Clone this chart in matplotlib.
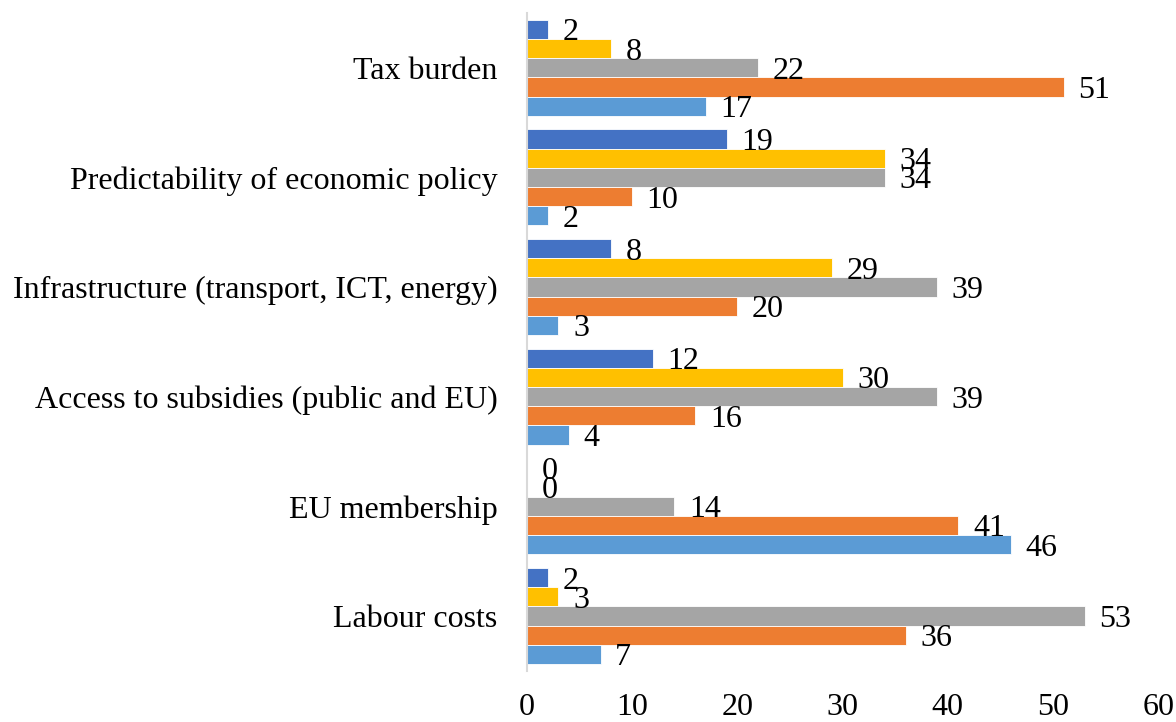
import matplotlib
matplotlib.use("Agg")
import matplotlib.pyplot as plt
import numpy as np

plt.rcParams['font.family'] = ['Liberation Serif', 'DejaVu Serif']

categories = ["Labour costs", "EU membership", "Access to subsidies (public and EU)",
              "Infrastructure (transport, ICT, energy)", "Predictability of economic policy",
              "Tax burden"]
# series listed top-to-bottom within each group
s_darkblue = [2, 0, 12, 8, 19, 2]
s_yellow = [3, 0, 30, 29, 34, 8]
s_gray = [53, 14, 39, 39, 34, 22]
s_orange = [36, 41, 16, 20, 10, 51]
s_lightblue = [7, 46, 4, 3, 2, 17]

series = [s_darkblue, s_yellow, s_gray, s_orange, s_lightblue]
colors = ["#4472C4", "#FFC000", "#A5A5A5", "#ED7D31", "#5B9BD5"]

fig = plt.figure(figsize=(11.76, 7.22), dpi=100)
ax = fig.add_axes([0.448, 0.071, 0.537, 0.911])

y = np.arange(len(categories))
w = 0.875 / 5
offsets = [2 * w, w, 0, -w, -2 * w]
for vals, c, off in zip(series, colors, offsets):
    bars = ax.barh(y + off, vals, height=w, color=c, edgecolor='white', linewidth=0.6)
    for b, v in zip(bars, vals):
        ax.annotate(str(v), xy=(b.get_width(), b.get_y() + b.get_height() / 2),
                    xytext=(10.5, -2.5), textcoords='offset points',
                    ha='left', va='center', fontsize=23, color='black')

ax.set_xlim(0, 60)
ax.set_ylim(-0.5, len(categories) - 0.5)
ax.set_xticks(np.arange(0, 61, 10))
ax.set_yticks(y)
ax.set_yticklabels(categories)
ax.tick_params(axis='both', length=0, labelsize=23)
ax.tick_params(axis='x', pad=16)
ax.tick_params(axis='y', pad=21)
for s in ['top', 'right', 'bottom']:
    ax.spines[s].set_visible(False)
ax.spines['left'].set_color('#D9D9D9')
ax.spines['left'].set_linewidth(1.5)

fig.savefig("out.png", dpi=100)
